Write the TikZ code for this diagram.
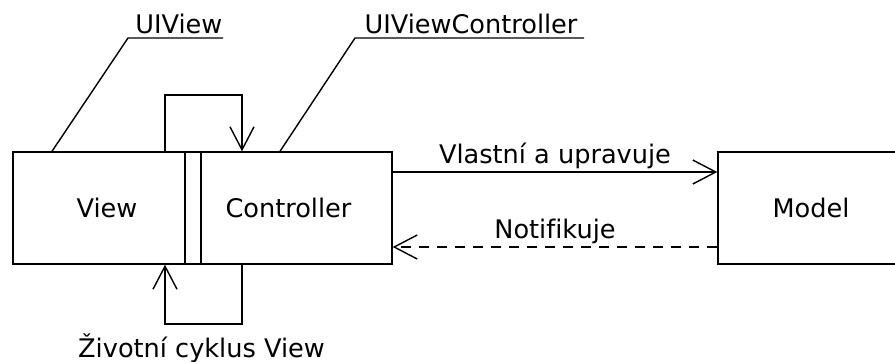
\documentclass[tikz,border=0pt]{standalone}
\usepackage{fontspec}
\setmainfont{DejaVu Sans}[Ligatures=NoCommon]
\usetikzlibrary{arrows.meta}

\begin{document}
\begin{tikzpicture}[x=0.5pt, y=-0.5pt, line width=0.7pt, font=\fontsize{12.8}{15}\selectfont]
            % Styles
            \tikzstyle{box} = [rectangle, draw=black, minimum height=56pt, inner sep=0pt]
            \tikzstyle{caption} = [inner sep=0pt]
            \tikzstyle{arrow} = [-{Straight Barb[length=11.5pt, width=12pt]}]

            \useasboundingbox (0,0) rectangle (895,361);

            % Nodes - explicit coordinates
            \node[box, minimum width=94pt] (view) at (107,208) {View};
            \node[box, minimum width=103.5pt] (ctrl) at (288.5,208) {Controller};
            \node[box, minimum width=93pt] (model) at (811,208) {Model};

            \node[caption, anchor=base east] (uiview) at (223,33) {UIView};
            \node[caption, anchor=base] (uivc) at (471,33) {UIViewController};
            \node[caption, anchor=base] (cycle) at (201.5,357) {Životní cyklus View};

            % Leaders
            \draw (52,0 |- view.north) -- (128,38) -- ([shift={(0,5)}]uiview.base east);
            \draw (280,0 |- ctrl.north) -- (355,38) -- ([shift={(6,5)}]uivc.base east);

            % Arrows
            \draw[arrow] (165,0 |- view.north) |- (242,95) -- (242,0 |- ctrl.north);
            \draw[arrow] (242,0 |- ctrl.south) |- (165,324) -- (165,0 |- view.south);
            \draw[arrow] (ctrl.east |- 0,172) -- node[caption, anchor=base, yshift=4.5pt] {Vlastní a upravuje} (model.west |- 0,172);
            \draw[arrow, dash pattern=on 5pt off 4pt] (model.west |- 0,247) -- node[caption, anchor=base, yshift=4.5pt] {Notifikuje} (ctrl.east |- 0,247);
        \end{tikzpicture}
\end{document}
